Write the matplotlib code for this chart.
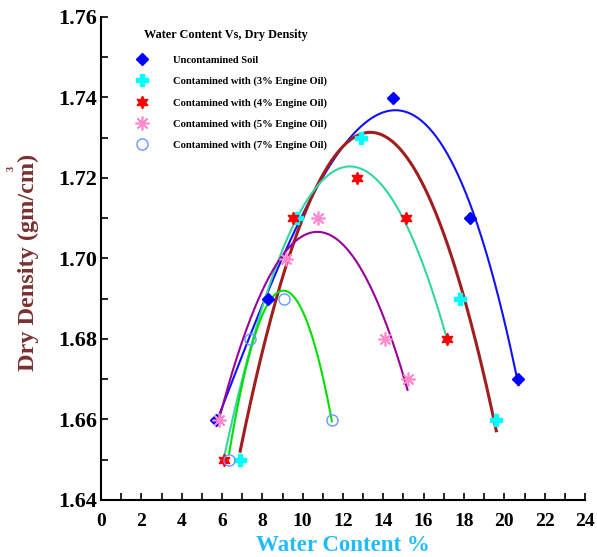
import numpy as np
import matplotlib
matplotlib.use("Agg")
import matplotlib.pyplot as plt
from matplotlib.ticker import MultipleLocator

plt.rcParams['font.family'] = ['Liberation Serif', 'DejaVu Serif']
plt.rcParams['font.weight'] = 'bold'

# Data
x_unc = [5.7, 8.3, 14.5, 18.3, 20.7]
y_unc = [1.66, 1.69, 1.74, 1.71, 1.67]
x_3 = [6.9, 9.7, 12.9, 17.8, 19.6]
y_3 = [1.65, 1.71, 1.73, 1.69, 1.66]
x_4 = [6.1, 9.5, 12.7, 15.1, 17.15]
y_4 = [1.65, 1.71, 1.72, 1.71, 1.68]
x_5 = [5.85, 9.15, 10.75, 14.1, 15.2]
y_5 = [1.66, 1.70, 1.71, 1.68, 1.67]
x_7 = [6.35, 7.4, 9.05, 11.45]
y_7 = [1.65, 1.68, 1.69, 1.66]

labels = ["Uncontamined Soil",
          "Contamined with (3% Engine Oil)",
          "Contamined with (4% Engine Oil)",
          "Contamined with (5% Engine Oil)",
          "Contamined with (7% Engine Oil)"]

W, H = 597, 557
fig = plt.figure(figsize=(W/100, H/100), dpi=100)
ax = fig.add_axes([101/W, 1-500/H, (585-101)/W, (500-17)/H])

series = [
    (x_unc, y_unc, 3, '#1010FF', 1.5, dict(marker='D', ms=6.5, color='#0000FF', mec='#0000FF')),
    (x_3, y_3, 2, '#A01E1E', 2.2, dict(marker='P', ms=9, color='#00FFFF', mec='#00FFFF')),
    (x_4, y_4, 2, '#33D6A0', 1.5, dict(marker=(6, 1, 0), ms=9, color='#FF0000', mec='#FF0000')),
    (x_5, y_5, 2, '#990099', 1.5, dict(marker=(8, 2, 0), ms=10, color='#FF88CC', mec='#FF88CC', mew=1.2)),
    (x_7, y_7, 2, '#00E000', 1.5, dict(marker='o', ms=8, mfc='none', mec='#6699FF', mew=1.0)),
]

handles = []
for (xs, ys, deg, lc, lw, mk), lab in zip(series, labels):
    coef = np.polyfit(xs, ys, deg)
    xx = np.linspace(min(xs), max(xs), 300)
    ax.plot(xx, np.polyval(coef, xx), color=lc, lw=lw, zorder=2)
for (xs, ys, deg, lc, lw, mk), lab in zip(series, labels):
    h, = ax.plot(xs, ys, linestyle='none', label=lab, zorder=3, **mk)
    handles.append(h)

ax.set_xlim(0, 24)
ax.set_ylim(1.64, 1.76)
ax.xaxis.set_major_locator(MultipleLocator(2))
ax.xaxis.set_minor_locator(MultipleLocator(1))
ax.yaxis.set_major_locator(MultipleLocator(0.02))
ax.yaxis.set_minor_locator(MultipleLocator(0.01))
ax.yaxis.set_major_formatter(matplotlib.ticker.FormatStrFormatter('%.2f'))
ax.tick_params(axis='both', which='both', direction='in', length=5, width=1.2,
               top=False, right=False)
ax.tick_params(axis='x', which='major', labelsize=14, pad=9)
ax.tick_params(axis='y', which='major', labelsize=16, pad=3)
for s in ['top', 'right']:
    ax.spines[s].set_visible(False)
for s in ['left', 'bottom']:
    ax.spines[s].set_linewidth(1.5)
for t in ax.get_xticklabels() + ax.get_yticklabels():
    t.set_fontweight('bold')

ylab_color = '#7A3030'
ax.set_ylabel("Dry Density (gm/cm)", fontsize=17.5, fontweight='bold', color=ylab_color)
ax.yaxis.set_label_coords(-62/484, (500-262)/483)
fig.text(11/W, 1-168/H, "3", rotation=90, fontsize=7.5, fontweight='bold',
         color=ylab_color, ha='center', va='center')
ax.set_xlabel("Water Content %", fontsize=16.5, fontweight='bold', color='#22BBFF',
              labelpad=4)

ax.text(43/484, (500-35)/483, "Water Content Vs, Dry Density", transform=ax.transAxes,
        fontsize=8.8, fontweight='bold', ha='left', va='center')

leg = ax.legend(handles=handles, loc='upper left', bbox_to_anchor=(0.06, 0.9286),
                frameon=False, prop={'size': 7.6, 'weight': 'bold'}, handlelength=1.5,
                handletextpad=2.2, labelspacing=1.1, borderaxespad=0)

fig.savefig('out.png', dpi=100)
